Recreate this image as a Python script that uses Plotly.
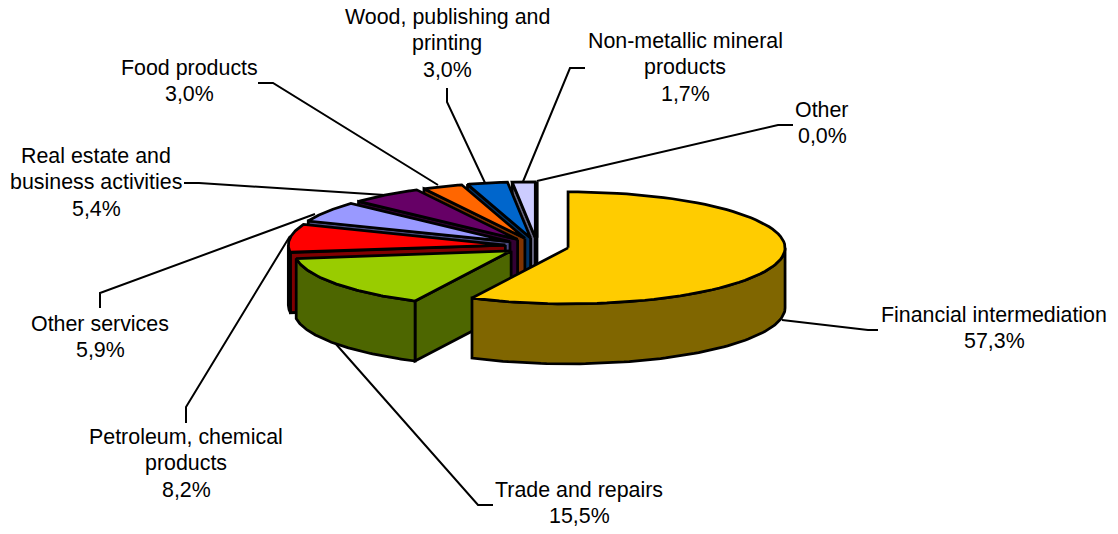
import numpy as np
import plotly.graph_objects as go

categories = [["Financial intermediation"], ["Trade and repairs"], ["Petroleum, chemical", "products"],
              ["Other services"], ["Real estate and", "business activities"], ["Food products"],
              ["Wood, publishing and", "printing"], ["Non-metallic mineral", "products"], ["Other"]]
values = [57.3, 15.5, 8.2, 5.9, 5.4, 3.0, 3.0, 1.7, 0.0]
top_colors = ["#FFCC00", "#99CC00", "#FF0000", "#9999FF", "#660066", "#FF6600", "#0066CC", "#CCCCFF", "#000000"]
side_colors = ["#806600", "#4D6600", "#800000", "#4D4D80", "#330033", "#803300", "#003366", "#666680", "#000000"]

# Projection of the tilted pie on to the page
CX, CY, RX, RY, DEPTH, EXPLODE = 537.0, 246.0, 217.0, 56.0, 60.0, 0.147
FONT = dict(family="Liberation Sans, Arial", size=21.4, color="black")
LINE_STEP = 26.3

# centre x, y of the first text line
label_pos = [(994, 315), (579, 490), (186, 437), (100, 324), (96, 156), (189, 68), (447, 17), (685, 41), (822, 110)]
leader_paths = [
    ([782, 868, 878], [320, 330, 330]),
    ([335, 478, 493], [343, 505, 505]),
    ([290, 186, 186], [236, 407, 423]),
    ([315, 100, 100], [214, 293, 308]),
    ([385, 199, 184], [195, 183, 183]),
    ([438, 273, 258], [185, 83, 83]),
    ([486, 447, 447], [185, 102, 88]),
    ([522, 570, 585], [184, 68, 68]),
    ([537, 778, 793], [181, 125, 125]),
]


def rim(ax, ay, a0, a1, n=80):
    t = np.radians(np.linspace(a0, a1, n))
    return ax + RX * np.sin(t), ay - RY * np.cos(t)


fig = go.Figure()


def poly(x, y, fill):
    fig.add_trace(go.Scatter(x=list(x) + [x[0]], y=list(y) + [y[0]], mode="lines", fill="toself",
                             fillcolor=fill, line=dict(color="black", width=2.75), hoverinfo="skip",
                             showlegend=False))


for lx, ly in leader_paths:
    fig.add_trace(go.Scatter(x=lx, y=ly, mode="lines", line=dict(color="black", width=2),
                             hoverinfo="skip", showlegend=False))

edges = np.concatenate([[0], np.cumsum(values)]) * 3.6
for i in range(len(values) - 1, -1, -1):
    a0, a1 = edges[i], edges[i + 1]
    mid = np.radians((a0 + a1) / 2)
    ax = CX + EXPLODE * RX * np.sin(mid)
    ay = CY - EXPLODE * RY * np.cos(mid)
    rx, ry = rim(ax, ay, a0, a1)
    # radial wall: only the leading edge of a slice on the left half faces the viewer
    if a0 >= 180:
        poly([ax, rx[0], rx[0], ax], [ay, ry[0], ry[0] + DEPTH, ay + DEPTH], side_colors[i])
    # front-facing part of the outer wall
    f0, f1 = max(a0, 90), min(a1, 270)
    if f1 > f0:
        fx, fy = rim(ax, ay, f0, f1)
        poly(np.concatenate([fx, fx[::-1]]), np.concatenate([fy, fy[::-1] + DEPTH]), side_colors[i])
    # top face
    poly(np.concatenate([[ax], rx]), np.concatenate([[ay], ry]), top_colors[i])

annotations = []
for lines, val, (px, py) in zip(categories, values, label_pos):
    pct = f"{val:.1f}".replace(".", ",") + "%"
    for k, text in enumerate(lines + [pct]):
        annotations.append(dict(x=px, y=py + k * LINE_STEP, text=text, showarrow=False, xanchor="center",
                                yanchor="middle", font=FONT, align="center"))

fig.update_layout(
    width=1118, height=534, margin=dict(l=0, r=0, t=0, b=0),
    paper_bgcolor="white", plot_bgcolor="white", showlegend=False,
    xaxis=dict(range=[0, 1118], visible=False, fixedrange=True),
    yaxis=dict(range=[534, 0], visible=False, fixedrange=True),
    annotations=annotations,
)
fig.write_html("out.html", config=dict(displayModeBar=False),
               post_script="document.body.style.margin='0';document.documentElement.style.overflow='hidden';")
